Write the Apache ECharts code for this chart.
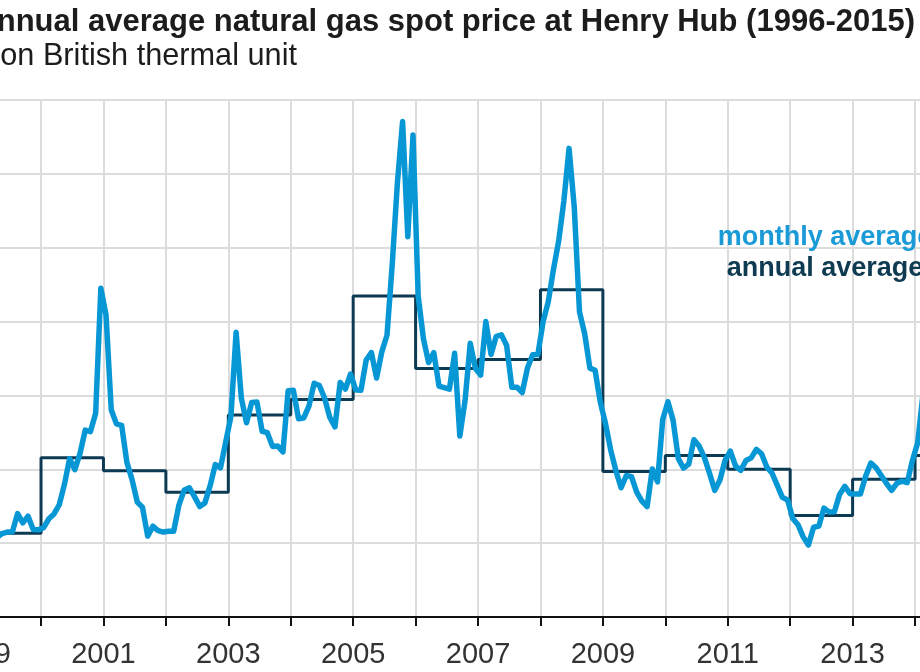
<!DOCTYPE html>
<html>
<head>
<meta charset="utf-8">
<script src="https://cdn.jsdelivr.net/npm/echarts@6/dist/echarts.min.js"></script>
<style>
html,body{margin:0;padding:0;width:920px;height:672px;overflow:hidden;background:#fff;position:relative;}
#chart{position:absolute;left:-300px;top:0;width:1400px;height:672px;}
</style>
</head>
<body>
<div id="chart"></div>
<script>
// ---- data ----
const years = [1996,1997,1998,1999,2000,2001,2002,2003,2004,2005,2006,2007,2008,2009,2010,2011,2012,2013,2014,2015];
const annualAverage = [2.76,2.53,2.08,2.27,4.31,3.96,3.38,5.47,5.89,8.69,6.73,6.97,8.86,3.94,4.37,4.00,2.75,3.73,4.37,2.62];
const m1996 = [2.98,2.92,3.03,2.42,2.25,2.56,2.66,2.23,1.93,2.38,3.26,3.91];
const m1997 = [3.45,2.15,1.89,2.03,2.25,2.20,2.19,2.49,2.88,3.07,3.01,2.35];
const m1998 = [2.09,2.23,2.24,2.43,2.14,2.17,2.17,1.85,2.02,1.91,2.12,1.72];
const m1999 = [1.85,1.77,1.79,2.15,2.26,2.30,2.31,2.80,2.55,2.73,2.37,2.36];
const m2000 = [2.42,2.66,2.79,3.04,3.59,4.29,3.99,4.43,5.06,5.02,5.52,8.90];
const m2001 = [8.17,5.61,5.23,5.19,4.19,3.72,3.11,2.97,2.19,2.46,2.34,2.30];
const m2002 = [2.32,2.32,3.03,3.43,3.50,3.26,2.99,3.09,3.55,4.13,4.04,4.74];
const m2003 = [5.43,7.71,5.93,5.26,5.81,5.82,5.03,4.99,4.62,4.63,4.47,6.13];
const m2004 = [6.14,5.37,5.39,5.71,6.33,6.27,5.93,5.41,5.15,6.35,6.17,6.58];
const m2005 = [6.15,6.14,6.96,7.16,6.47,7.18,7.63,9.53,11.75,13.42,10.30,13.05];
const m2006 = [8.69,7.54,6.89,7.16,6.25,6.21,6.17,7.14,4.90,5.85,7.41,6.73];
const m2007 = [6.55,8.00,7.11,7.60,7.64,7.35,6.22,6.22,6.08,6.74,7.10,7.11];
const m2008 = [7.99,8.54,9.41,10.18,11.27,12.69,11.09,8.26,7.67,6.74,6.68,5.82];
const m2009 = [5.24,4.52,3.96,3.50,3.83,3.80,3.38,3.14,2.99,4.01,3.66,5.35];
const m2010 = [5.83,5.32,4.29,4.03,4.14,4.80,4.63,4.32,3.89,3.43,3.71,4.25];
const m2011 = [4.49,4.09,3.97,4.24,4.31,4.54,4.42,4.06,3.90,3.57,3.24,3.17];
const m2012 = [2.67,2.50,2.17,1.95,2.43,2.46,2.95,2.84,2.85,3.32,3.54,3.34];
const m2013 = [3.33,3.33,3.81,4.17,4.04,3.83,3.62,3.43,3.62,3.68,3.64,4.24];
const m2014 = [4.71,6.00,4.90,4.66,4.58,4.59,4.05,3.91,3.92,3.78,4.12,3.48];
const m2015 = [2.99,2.87,2.83,2.61,2.85,2.78,2.84,2.77,2.66,2.34,2.09,1.93];
const monthlyByYear = [m1996,m1997,m1998,m1999,m2000,m2001,m2002,m2003,m2004,m2005,m2006,m2007,m2008,m2009,m2010,m2011,m2012,m2013,m2014,m2015];
const labeledYears = [1997,1999,2001,2003,2005,2007,2009,2011,2013,2015];
const titleText = 'Monthly and annual average natural gas spot price at Henry Hub (1996-2015)';
const subtitleText = 'dollars per million British thermal unit';
const legendMonthly = 'monthly average';
const legendAnnual = 'annual average';

// ---- build series data ----
const monthlyData = [];
monthlyByYear.forEach((arr, yi) => {
  arr.forEach((v, mi) => monthlyData.push([years[yi] + (mi + 0.5) / 12, v]));
});
const annualData = years.map((y, i) => [y, annualAverage[i]]);
annualData.push([years[years.length - 1] + 1, annualAverage[annualAverage.length - 1]]);

const FONT = "'Liberation Sans', Arial, sans-serif";
const OFF = 300; // div offset

const chart = echarts.init(document.getElementById('chart'), null, {renderer: 'canvas'});
chart.setOption({
  animation: false,
  backgroundColor: '#ffffff',
  grid: {left: OFF - 208.7, top: 100, width: 1248.6, height: 517, containLabel: false},
  xAxis: {
    type: 'value', min: 1996, max: 2016, interval: 1,
    axisLine: {show: true, lineStyle: {color: '#111', width: 2}},
    axisTick: {show: true, length: 9, lineStyle: {color: '#111', width: 2}},
    axisLabel: {
      margin: 23, fontSize: 29, color: '#333', fontFamily: FONT,
      formatter: v => labeledYears.indexOf(Math.round(v)) >= 0 ? String(Math.round(v)) : ''
    },
    splitLine: {show: true, lineStyle: {color: '#dcdcdc', width: 2}}
  },
  yAxis: {
    type: 'value', min: 0, max: 14, interval: 2,
    axisLine: {show: false}, axisTick: {show: false},
    axisLabel: {show: false},
    splitLine: {show: true, lineStyle: {color: '#dcdcdc', width: 2}}
  },
  series: [
    {
      name: legendAnnual, type: 'line', step: 'end', data: annualData,
      showSymbol: false, symbol: 'none',
      lineStyle: {color: '#0c3a52', width: 3}, z: 2
    },
    {
      name: legendMonthly, type: 'line', data: monthlyData,
      showSymbol: false, symbol: 'none',
      lineStyle: {color: '#0897d5', width: 5.5, join: 'round'}, z: 3
    }
  ],
  graphic: [
    {type: 'text', x: OFF + 915, y: 22, style: {text: titleText, fontSize: 31, fontWeight: 'bold', fontFamily: FONT, fill: '#1c1c1c', textAlign: 'right', textVerticalAlign: 'middle'}},
    {type: 'text', x: OFF + 297, y: 57, style: {text: subtitleText, fontSize: 30.7, fontFamily: FONT, fill: '#1c1c1c', textAlign: 'right', textVerticalAlign: 'middle'}},
    {type: 'text', x: OFF + 825, y: 238, z: 10, style: {text: legendMonthly, fontSize: 27, fontWeight: 'bold', fontFamily: FONT, fill: '#1a9bd7', textAlign: 'center', textVerticalAlign: 'middle'}},
    {type: 'text', x: OFF + 825, y: 269, z: 10, style: {text: legendAnnual, fontSize: 27, fontWeight: 'bold', fontFamily: FONT, fill: '#0e3a52', textAlign: 'center', textVerticalAlign: 'middle'}}
  ]
});
</script>
</body>
</html>
